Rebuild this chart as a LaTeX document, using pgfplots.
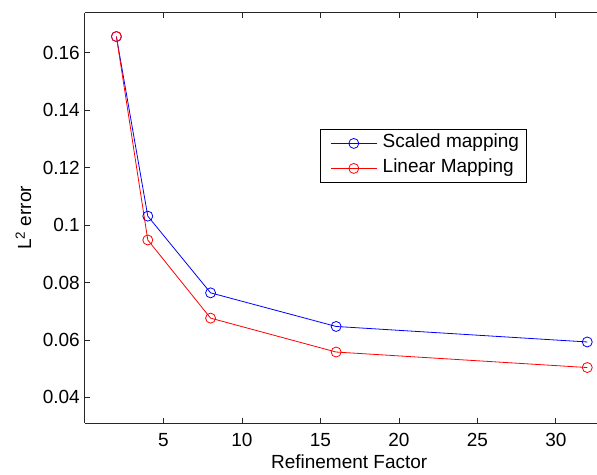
\documentclass[border=0pt]{standalone}
\usepackage{fontspec}
\setmainfont{Liberation Sans}
\usepackage{pgfplots}
\pgfplotsset{compat=1.18}

\newcommand{\chartfont}{\fontsize{19}{22}\selectfont}

\begin{document}
\begin{tikzpicture}
\begin{axis}[
  scale only axis,
  width=512pt, height=410pt,
  xmin=0, xmax=32.62,
  ymin=0.0311, ymax=0.1738,
  axis x line=box, axis y line=left,
  axis line style={-, line width=1pt, black!85},
  tick align=inside,
  major tick length=5pt,
  tick style={black!85, line width=0.8pt},
  xtick={5,10,...,30},
  ytick={0.04,0.06,0.08,0.1,0.12,0.14,0.16},
  /pgf/number format/assume math mode=true,
  yticklabel style={/pgf/number format/fixed, /pgf/number format/precision=2,
                    inner sep=0pt, xshift=-5pt, font=\chartfont},
  xticklabel style={inner sep=0pt, yshift=-10pt, font=\chartfont},
  xlabel={Refinement Factor},
  ylabel={L\textsuperscript{2} error},
  xlabel style={at={(axis description cs:0.516,0)}, anchor=base, inner sep=0pt,
                yshift=-45pt, font=\chartfont},
  ylabel style={at={(axis description cs:-0.105,0.5)}, anchor=base, inner sep=0pt,
                font=\chartfont},
  legend style={at={(axis description cs:0.459,0.717)}, anchor=north west,
                draw=black, line width=0.8pt, font=\chartfont,
                inner xsep=5pt, inner ysep=2.5pt, row sep=2pt,
                nodes={inner sep=2pt, text height=14pt, text depth=5pt}},
  legend cell align=left,
  legend image code/.code={
    \path (-5pt,0pt) (49.5pt,0pt);
    \draw[mark repeat=2, mark phase=2] plot coordinates {(0pt,0pt) (23pt,0pt) (46pt,0pt)};
  },
]
\addplot[blue, line width=0.8pt, mark=o, mark size=5pt, mark options={line width=0.8pt}]
  coordinates {(2,0.1656) (4,0.1031) (8,0.0764) (16,0.0647) (32,0.0593)};
\addlegendentry{Scaled mapping}
\addplot[red, line width=0.8pt, mark=o, mark size=5pt, mark options={line width=0.8pt}]
  coordinates {(2,0.1656) (4,0.0948) (8,0.0676) (16,0.0558) (32,0.0504)};
\addlegendentry{Linear Mapping}
\coordinate (ll) at (rel axis cs:0,0);
\coordinate (ur) at (rel axis cs:1,1);
\end{axis}
\pgfresetboundingbox
\useasboundingbox ([xshift=-85pt,yshift=-51pt]ll) rectangle ([yshift=13pt]ur);
\end{tikzpicture}
\end{document}
